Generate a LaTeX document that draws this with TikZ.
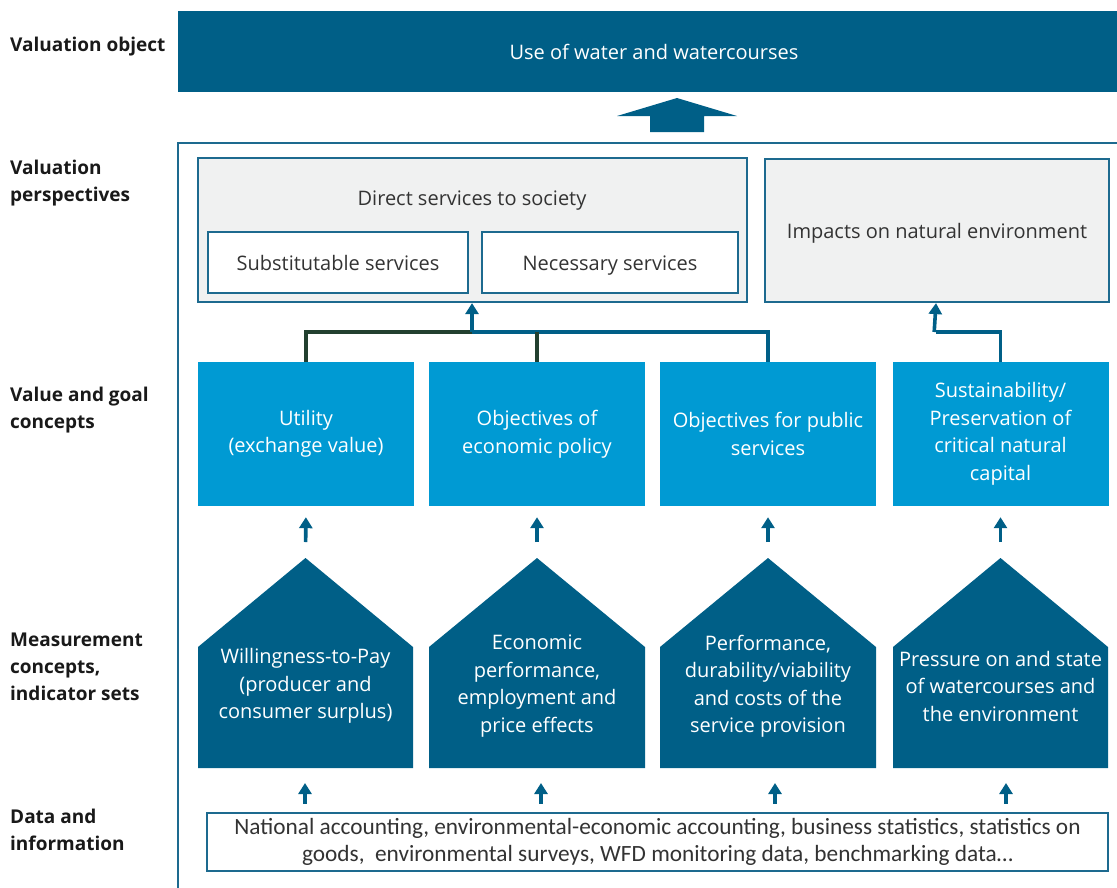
\documentclass[tikz,border=0pt]{standalone}
\usepackage{fontspec}
\setmainfont{Open Sans}
\newfontfamily\datafont{Carlito}
\usetikzlibrary{arrows.meta,calc,backgrounds}
\definecolor{objc}{HTML}{005F87}
\definecolor{lightc}{HTML}{009AD3}
\definecolor{framec}{HTML}{1D6A8F}
\definecolor{grayc}{HTML}{F0F1F1}
\definecolor{darkline}{HTML}{22402F}
\definecolor{txtgray}{HTML}{333333}
\tikzset{
  lab/.style={anchor=west, align=left, font=\fontsize{19}{27}\selectfont\bfseries, text=black!90, inner sep=0pt},
  body/.style={font=\fontsize{20}{27.5}\selectfont, align=center},
  oneline/.style={text height=17pt, text depth=1pt},
  objbox/.style={body, oneline, fill=objc, text=white, minimum width=952pt, minimum height=81pt, inner sep=0pt},
  persbox/.style={body, oneline, fill=grayc, draw=framec, line width=2.2pt, text=txtgray, inner sep=0pt},
  subbox/.style={body, oneline, fill=white, draw=framec, line width=2.2pt, text=txtgray, minimum height=61pt, inner sep=0pt},
  valbox/.style={body, fill=lightc, text=white, minimum width=216pt, minimum height=144pt, inner sep=0pt},
  penttext/.style={body, text=white, inner sep=0pt},
  pentfill/.style={fill=objc},
  databox/.style={font=\datafont\fontsize{23.3}{27}\selectfont, align=center, fill=white, draw=framec, line width=2.2pt, text=txtgray, minimum width=901pt, minimum height=58pt, inner sep=0pt},
  sarr/.style={draw=objc, line width=3.6pt, -{Triangle[width=13pt,length=11pt]}},
  bline/.style={draw=objc, line width=3.6pt},
  dline/.style={draw=darkline, line width=3.6pt},
}
\begin{document}
\begin{tikzpicture}[x=1pt,y=-1pt]
\useasboundingbox (0,0) rectangle (1117,887);

% row labels
\node[lab] (l1) at (10,47) {Valuation object};
\node[lab] (l2) at (10,183) {Valuation\\perspectives};
\node[lab] (l3) at (10,410) {Value and goal\\concepts};
\node[lab] (l4) at (10,667) {Measurement\\concepts,\\indicator sets};
\node[lab] (l5) at (10,830) {Data and\\information};

% valuation object
\node[objbox] (obj) at (654,51.5) {Use of water and watercourses};

% big arrow
\fill[objc] (677,98) -- (737,116) -- (704,116) -- (704,132) -- (650,132) -- (650,116) -- (617,116) -- cycle;

% outer frame
\draw[framec, line width=2.6pt] (1130,143) -- (178,143) -- (178,900);

% perspectives
\node[persbox, minimum width=549pt, minimum height=144pt] (dir) at (472.5,230) {};
\node[body, oneline, text=txtgray, inner sep=0pt] (dirt) at (472,197) {Direct services to society};
\node[subbox, minimum width=260pt] (sub) at (338,262.5) {Substitutable services};
\node[subbox, minimum width=256pt] (nec) at (610,262.5) {Necessary services};
\node[persbox, minimum width=344pt, minimum height=143pt] (imp) at (937,230.5) {Impacts on natural environment};

% value and goal concepts
\node[valbox] (v1) at (306,434) {Utility\\(exchange value)};
\node[valbox] (v2) at (537,434) {Objectives of\\economic policy};
\node[valbox] (v3) at (768,434) {Objectives for public\\services};
\node[valbox] (v4) at (1000.5,434) {Sustainability/\\Preservation of\\critical natural\\capital};

% connectors to perspectives
\coordinate (j1) at (472,332);
\coordinate (j2) at (936,332);
\draw[bline] (v3.north) |- (j1);
\draw[dline] (v1.north) |- (j1);
\draw[dline] (v2.north) -- (v2.north |- j1);
\draw[sarr] (j1) -- (dir.south -| j1);
\draw[bline] (v4.north) |- (j2);
\draw[sarr] ([xshift=-1.8pt]j2) -- (imp.south -| j2);

% measurement pentagons
\fill[pentfill] (198,768) -- (198,647) -- (305.5,558) coordinate (a1) -- (413,647) -- (413,768) -- cycle;
\fill[pentfill] (429,768) -- (429,647) -- (537,558) coordinate (a2) -- (645,647) -- (645,768) -- cycle;
\fill[pentfill] (660,768) -- (660,647) -- (768,558) coordinate (a3) -- (876,647) -- (876,768) -- cycle;
\fill[pentfill] (893,768) -- (893,647) -- (1000.5,558) coordinate (a4) -- (1108,647) -- (1108,768) -- cycle;
\node[penttext] (p1) at (305.5,686) {Willingness-to-Pay\\(producer and\\consumer surplus)};
\node[penttext] (p2) at (537,686) {Economic\\performance,\\employment and\\price effects};
\node[penttext] (p3) at (768,686) {Performance,\\durability/viability\\and costs of the\\service provision};
\node[penttext] (p4) at (1000.5,686) {Pressure on and state\\of watercourses and\\the environment};

% arrows pentagon -> value boxes
\draw[sarr, shorten <=16pt, shorten >=11pt] (a1) -- (v1.south);
\draw[sarr, shorten <=16pt, shorten >=11pt] (a2) -- (v2.south);
\draw[sarr, shorten <=16pt, shorten >=11pt] (a3) -- (v3.south);
\draw[sarr, shorten <=16pt, shorten >=11pt] (a4) -- (v4.south);

% data box
\node[databox] (data) at (657.5,842) {National accounting, environmental-economic accounting, business statistics, statistics on\\goods,\ \ environmental surveys, WFD monitoring data, benchmarking data\ldots};

% arrows data -> pentagons
\coordinate (b1) at (305,768);
\coordinate (b2) at (541,768);
\coordinate (b3) at (775,768);
\coordinate (b4) at (1006,768);
\draw[sarr, shorten <=8pt, shorten >=15pt] (data.north -| b1) -- (b1);
\draw[sarr, shorten <=8pt, shorten >=15pt] (data.north -| b2) -- (b2);
\draw[sarr, shorten <=8pt, shorten >=15pt] (data.north -| b3) -- (b3);
\draw[sarr, shorten <=8pt, shorten >=15pt] (data.north -| b4) -- (b4);
\end{tikzpicture}
\end{document}
